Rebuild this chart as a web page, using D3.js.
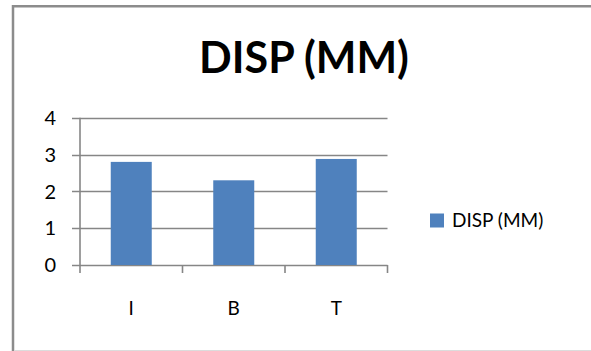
<!DOCTYPE html>
<html>
<head>
<meta charset="utf-8">
<script src="https://cdn.jsdelivr.net/npm/d3@7"></script>
<style>
  html, body { margin: 0; padding: 0; background: #fff; overflow: hidden; }
  svg { display: block; font-family: Lato, "Open Sans", sans-serif; }
</style>
</head>
<body>
<svg id="chart" width="591" height="351"></svg>
<script>
// Displacement per position, in millimetres
const categories = ["I", "B", "T"];
const dispValues = [2.8, 2.3, 2.88];
const yTicks = [0, 1, 2, 3, 4];
const seriesName = "DISP (MM)";
const chartTitle = "DISP (MM)";

const svg = d3.select("#chart");
const barColor = "#4F81BD";
const gridColor = "#868686";

// chart frame: left and top edges, faint bottom edge
svg.append("line")
  .attr("x1", 13).attr("x2", 13)
  .attr("y1", 5).attr("y2", 351)
  .attr("stroke", "#8c8c8c").attr("stroke-width", 2.5);
svg.append("line")
  .attr("x1", 12).attr("x2", 591)
  .attr("y1", 6.2).attr("y2", 6.2)
  .attr("stroke", "#8c8c8c").attr("stroke-width", 2.5);
svg.append("line")
  .attr("x1", 14).attr("x2", 591)
  .attr("y1", 350.5).attr("y2", 350.5)
  .attr("stroke", "#dcdcdc").attr("stroke-width", 1);

const plot = { left: 80, right: 387.5, top: 117.7, bottom: 265 };

const x = d3.scaleBand()
  .domain(categories)
  .range([plot.left, plot.right])
  .paddingInner(0.6)
  .paddingOuter(0.3);

const xAxisScale = d3.scalePoint()
  .domain(d3.range(categories.length + 1))
  .range([plot.left, plot.right]);

const y = d3.scaleLinear()
  .domain([0, 4])
  .range([plot.bottom, plot.top]);

// horizontal gridlines
svg.append("g")
  .selectAll("line")
  .data(yTicks)
  .join("line")
  .attr("x1", plot.left - 8)
  .attr("x2", plot.right)
  .attr("y1", d => Math.round(y(d)) + 0.5)
  .attr("y2", d => Math.round(y(d)) + 0.5)
  .attr("stroke", gridColor)
  .attr("stroke-width", 1.6);

// vertical axis line
svg.append("line")
  .attr("x1", plot.left).attr("x2", plot.left)
  .attr("y1", plot.top).attr("y2", plot.bottom + 8)
  .attr("stroke", gridColor).attr("stroke-width", 1.6);

// category tick marks below the baseline
svg.append("g")
  .selectAll("line")
  .data(d3.range(1, categories.length + 1))
  .join("line")
  .attr("x1", d => xAxisScale(d)).attr("x2", d => xAxisScale(d))
  .attr("y1", plot.bottom).attr("y2", plot.bottom + 8)
  .attr("stroke", gridColor).attr("stroke-width", 1.6);

// bars
svg.append("g")
  .selectAll("rect")
  .data(categories.map((c, i) => ({ c, v: dispValues[i] })))
  .join("rect")
  .attr("x", d => x(d.c))
  .attr("width", x.bandwidth())
  .attr("y", d => y(d.v))
  .attr("height", d => y(0) - y(d.v))
  .attr("fill", barColor);

// y tick labels
svg.append("g")
  .selectAll("text")
  .data(yTicks)
  .join("text")
  .attr("x", 56)
  .attr("y", d => y(d))
  .attr("dy", "0.36em")
  .attr("text-anchor", "end")
  .attr("font-size", 20)
  .attr("fill", "#000")
  .text(d => d);

// category labels
svg.append("g")
  .selectAll("text")
  .data(categories)
  .join("text")
  .attr("x", d => x(d) + x.bandwidth() / 2)
  .attr("y", 315)
  .attr("text-anchor", "middle")
  .attr("font-size", 19)
  .attr("fill", "#000")
  .text(d => d);

// title
svg.append("text")
  .attr("x", 304)
  .attr("y", 73)
  .attr("text-anchor", "middle")
  .attr("font-size", 43)
  .attr("font-weight", "bold")
  .attr("fill", "#000")
  .text(chartTitle);

// legend
const legend = svg.append("g").attr("transform", "translate(430,213.5)");
legend.append("rect")
  .attr("width", 14).attr("height", 14)
  .attr("fill", barColor);
legend.append("text")
  .attr("x", 22).attr("y", 7)
  .attr("dy", "0.36em")
  .attr("font-size", 19)
  .attr("fill", "#000")
  .text(seriesName);
</script>
</body>
</html>
